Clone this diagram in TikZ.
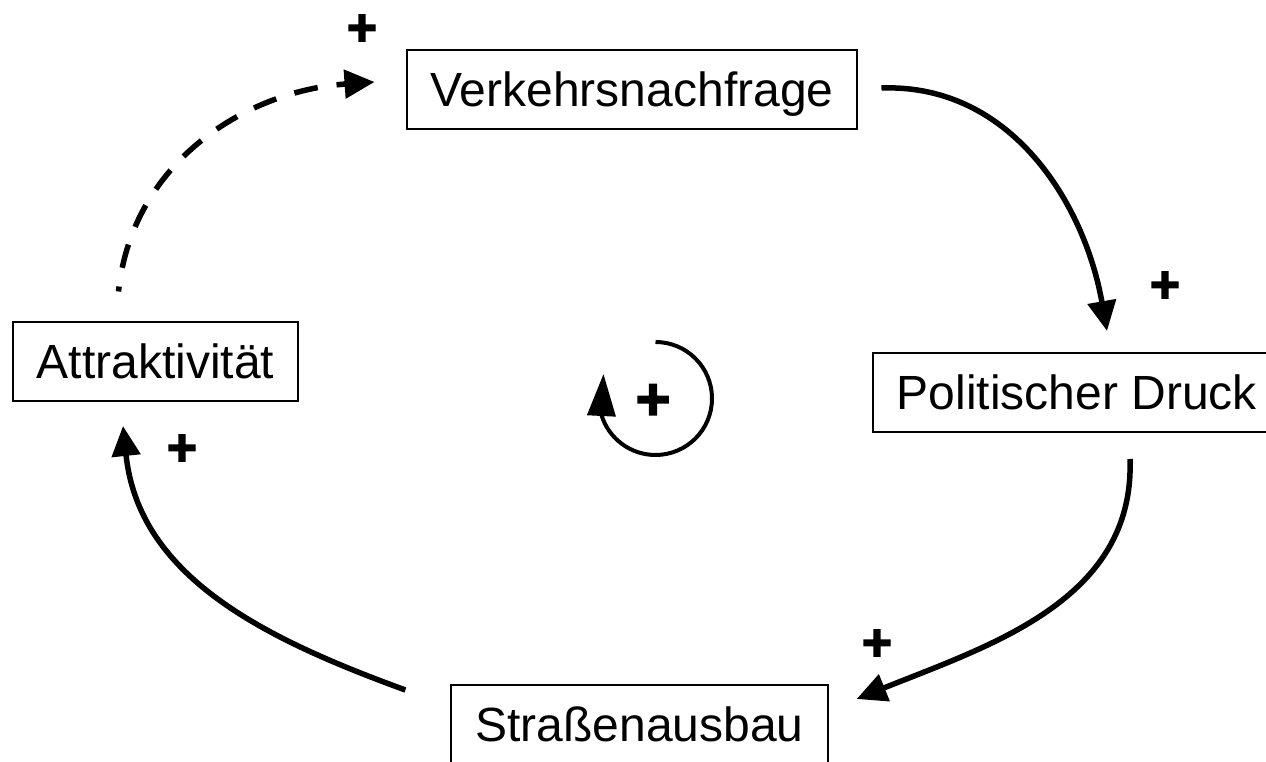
\documentclass[tikz,border=0pt]{standalone}
\usepackage{fontspec}
\setmainfont{Liberation Sans}
\newfontfamily\signfont{Liberation Sans Bold}[FakeBold=2.5]
\usetikzlibrary{arrows.meta}

\begin{document}
\begin{tikzpicture}[x=1pt,y=1pt,>={Triangle[length=30pt,width=28pt]},
    var/.style={draw,line width=2pt,font=\fontsize{48}{58}\selectfont,
      inner xsep=24pt,inner ysep=22.5pt,text height=34pt,text depth=0pt},
    link/.style={->,line width=5.5pt},
    sign/.style={font=\signfont\fontsize{52}{60}\selectfont,inner sep=0pt}]
  \useasboundingbox[fill=white] (0,0) rectangle (1266,762);
  \node[var] (V) at (632,672)   {Verkehrsnachfrage};
  \node[var] (P) at (1077,369.5) {Politischer Druck};
  \node[var] (S) at (639.5,37.5) {Straßenausbau};
  \node[var] (A) at (155.5,400) {Attraktivität};
  % polarities
  \node[sign] (pV) at (362,732) {+};
  \node[sign] (pP) at (1165,475) {+};
  \node[sign] (pS) at (877,117) {+};
  \node[sign] (pA) at (182,312) {+};
  % links
  \draw[link,dash pattern=on 24pt off 19pt,dash phase=19pt]
    ([shift={(-37,30)}]A.north) to[out=84,in=184] ([shift={(-31,8)}]V.west);
  \draw[link] ([shift={(23,2)}]V.east)   to[out=2,in=100]  ([shift={(30,21)}]P.north);
  \draw[link] ([shift={(53,-26)}]P.south) to[out=-88,in=22] ([shift={(28,25.5)}]S.east);
  \draw[link] ([shift={(-45,34.5)}]S.west) to[out=160,in=-84] ([shift={(-32.5,-23.5)}]A.south);
  % reinforcing loop
  \coordinate (R) at (655.5,363.5);
  \draw[line width=4pt,-{Triangle[length=42pt,width=28pt]}]
    ([shift={(90:56.5)}]R) arc[start angle=90,end angle=-163,radius=56.5] -- ++(2,41);
  \node[sign,font=\signfont\fontsize{60}{70}\selectfont] (pR) at (653,360) {+};
\end{tikzpicture}
\end{document}
